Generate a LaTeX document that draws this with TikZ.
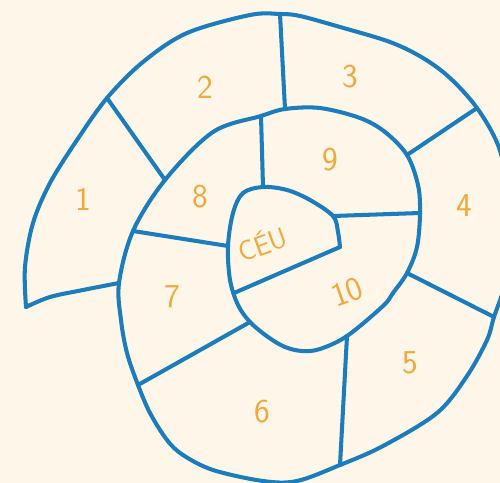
\documentclass[tikz,border=0pt]{standalone}
\usepackage{tikz}
\definecolor{chalk}{RGB}{253,246,233}
\definecolor{rope}{RGB}{28,125,190}
\definecolor{paint}{RGB}{242,168,58}

\begin{document}
\begin{tikzpicture}[x=0.02cm,y=-0.02cm,font=\sffamily\fontsize{19}{19}\selectfont]
\tikzstyle{edge}=[draw=rope,line width=2.3pt,line cap=round,line join=round]
\tikzstyle{num}=[text=paint,inner sep=0pt]
\fill[chalk] (0,0) rectangle (500,483);
\useasboundingbox (0,0) rectangle (500,483);
\clip (0,0) rectangle (500,483);
\coordinate (tip) at (26,307);
\coordinate (a12) at (107,98);
\coordinate (b12) at (165,180);
\coordinate (a23) at (280,14);
\coordinate (b23) at (285,109);
\coordinate (a34) at (477,108);
\coordinate (b34) at (407,155);
\coordinate (a45) at (494,317);
\coordinate (b45) at (407,273);
\coordinate (a56) at (340,465);
\coordinate (b56) at (347,336);
\coordinate (a67) at (138,385);
\coordinate (b67) at (250,322);
\coordinate (a78) at (133,231);
\coordinate (b78) at (228,246);
\coordinate (a89) at (261,116);
\coordinate (b89) at (263,187);
\coordinate (a910) at (420,213);
\coordinate (b910) at (333,216);
\coordinate (c1) at (119,283);
\coordinate (ceuA) at (234,293);
\coordinate (ceuB) at (340,247);
\draw[edge] plot[smooth,tension=0.55] coordinates {(tip) (25,267) (33,223) (50,183) (77,140) (a12) (143,62) (187,33) (250,15) (a23) (300,16) (340,27) (390,42) (423,58) (450,78) (a34) (498,145) (509,190) (513,230) (508,275) (a45) (487,340) (467,376) (437,413) (383,446) (a56) (297,481) (263,481) (213,470) (183,455) (167,440) (150,413) (a67) (127,353) (121,320) (c1) (a78) (b12) (213,132) (a89) (b23) (320,108) (360,118) (385,132) (b34) (418,185) (a910) (417,247) (b45) (393,293) (383,306) (b56) (320,349) (302,351) (285,347) (268,337) (b67) (238,305) (230,280) (b78) (233,213) (243,193) (b89) (287,190) (310,200) (b910) (338,232) (ceuB)};
\draw[edge] plot[smooth,tension=0.55] coordinates {(tip) (50,297) (83,290) (c1)};
\draw[edge] (ceuB) -- (ceuA);
\draw[edge] (a12) -- (b12);
\draw[edge] (a23) -- (b23);
\draw[edge] (a34) -- (b34);
\draw[edge] (a45) -- (b45);
\draw[edge] (a56) -- (b56);
\draw[edge] (a67) -- (b67);
\draw[edge] (a78) -- (b78);
\draw[edge] (a89) -- (b89);
\draw[edge] (a910) -- (b910);
\node[num] (n1) at (83,199) {1};
\node[num] (n2) at (205,87) {2};
\node[num] (n3) at (350,77) {3};
\node[num] (n4) at (464,206) {4};
\node[num] (n5) at (410,363) {5};
\node[num] (n6) at (262,412) {6};
\node[num] (n7) at (172,297) {7};
\node[num] (n8) at (200,197) {8};
\node[num] (n9) at (330,160) {9};
\node[num,rotate=20] (n10) at (347,292) {10};
\node[num,rotate=20,font=\sffamily\fontsize{16}{16}\selectfont] (ceu) at (262,243) {CÉU};
\end{tikzpicture}
\end{document}
